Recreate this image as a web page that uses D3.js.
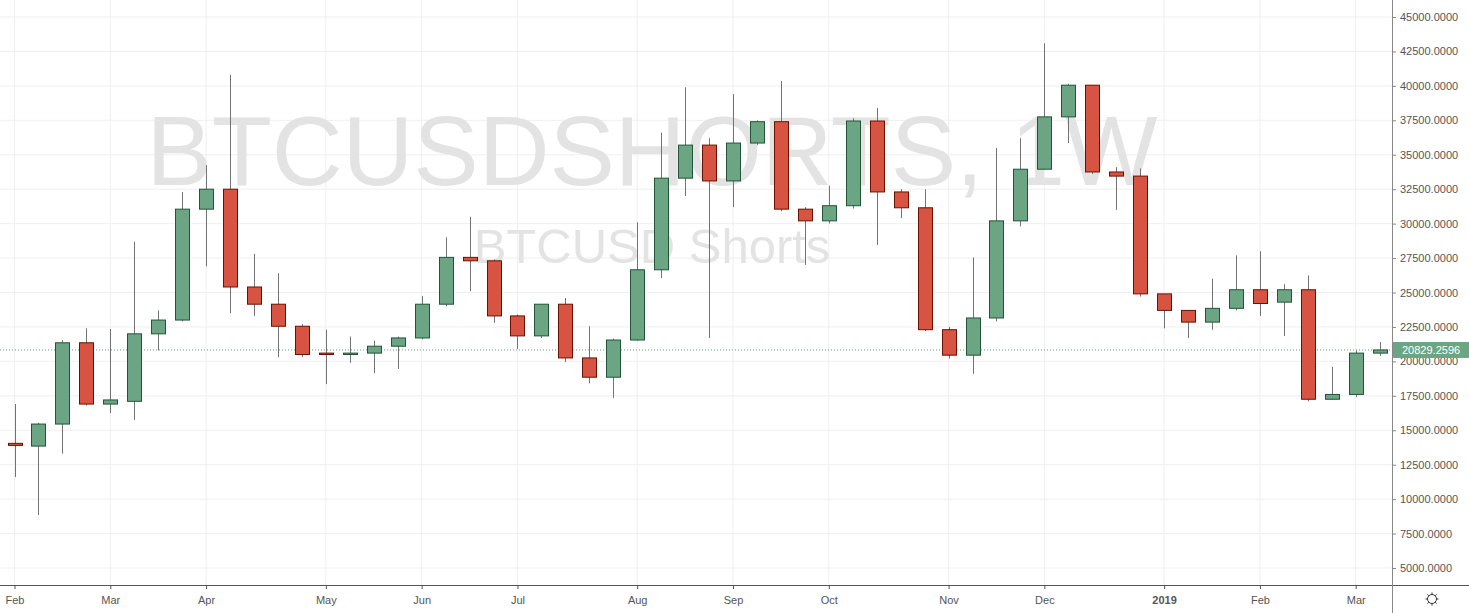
<!DOCTYPE html>
<html><head><meta charset="utf-8">
<script src="https://cdn.jsdelivr.net/npm/d3@7"></script>
<style>body{margin:0;background:#fff;overflow:hidden}svg{display:block;font-family:Arial,"Liberation Sans",sans-serif}</style>
</head><body><svg id="c" width="1469" height="613"></svg>
<script>
const startWeek = "2018-01-29";
const opens  = [14050,13850,15450,21350,16900,17100,22000,23000,31050,32500,25400,24150,22550,20600,20500,20600,21100,21700,24150,27550,27300,23300,21850,24150,20250,18850,21550,26650,33300,35700,33100,35850,37400,31050,30200,31300,37450,32300,31150,22300,20450,23150,30200,33950,37750,40050,33750,33450,24900,23700,22850,23850,25200,24300,25200,17250,17600,20600];
const closes = [13900,15450,21350,16900,17200,22000,23000,31050,32500,25400,24150,22550,20500,20500,20600,21100,21700,24150,27550,27300,23300,21850,24150,20250,18850,21550,26650,33300,35700,33100,35850,37400,31050,30200,31300,37450,32300,31150,22300,20450,23150,30200,33950,37750,40050,33750,33450,24900,23700,22850,23850,25200,24200,25200,17250,17600,20600,20829.2596];
const highs  = [16900,15550,21550,22400,22350,28700,23700,32300,34250,40800,27800,26400,22700,22300,21800,21500,21800,24750,29000,30500,27400,23400,24150,24600,22550,21650,30100,36600,39900,36200,39400,37500,40350,31200,32750,37650,38400,32500,32500,22500,27550,35500,36200,43100,40150,40050,34100,34000,24900,23700,26000,27700,28000,25600,26250,19600,20800,21400];
const lows   = [11600,8850,13300,16800,16250,15750,20800,22900,26900,23500,23300,20300,20300,18350,19900,19150,19450,21600,24000,25100,22800,20900,21700,19950,18400,17350,21500,26050,32000,21700,31200,35700,30900,27000,30000,31100,28450,30400,22200,20200,19100,22900,29800,33900,35850,33600,31000,24700,22400,21700,22300,23700,23300,21850,17100,17200,17400,20400];
const monthLabels = [["2018-01-29","Feb"],["2018-02-26","Mar"],["2018-03-26","Apr"],["2018-04-30","May"],["2018-05-28","Jun"],["2018-06-25","Jul"],["2018-07-30","Aug"],["2018-08-27","Sep"],["2018-09-24","Oct"],["2018-10-29","Nov"],["2018-11-26","Dec"],["2018-12-31","2019"],["2019-01-28","Feb"],["2019-02-25","Mar"]];
const yTicks = [5000,7500,10000,12500,15000,17500,20000,22500,25000,27500,30000,32500,35000,37500,40000,42500,45000];
const lastPrice = 20829.2596;

const fmt = d3.timeFormat("%Y-%m-%d");
const s0 = d3.timeParse("%Y-%m-%d")(startWeek);
const cats = opens.map((_,i)=>fmt(d3.timeWeek.offset(s0,i)));
const data = cats.map((c,i)=>({c,o:opens[i],h:highs[i],l:lows[i],cl:closes[i]}));

const svg = d3.select("#c");
const W=1469,H=613,axX=1392,axY=585;
const x = d3.scalePoint().domain(cats).range([14.5,14.5+57*23.95]);
const y = d3.scaleLinear().domain([5000,45000]).range([568,17]);

svg.append("g").selectAll("line").data(yTicks).join("line")
  .attr("x1",0).attr("x2",axX).attr("y1",d=>y(d)).attr("y2",d=>y(d)).attr("stroke","#efefef");
svg.append("g").selectAll("line").data(monthLabels).join("line")
  .attr("x1",d=>x(d[0])).attr("x2",d=>x(d[0])).attr("y1",0).attr("y2",axY).attr("stroke","#efefef");

svg.append("text").text("BTCUSDSHORTS, 1W").attr("x",652).attr("y",185).attr("text-anchor","middle")
  .attr("font-size",98).attr("fill","#e3e3e3").attr("font-family","Arial,'Liberation Sans'");
svg.append("text").text("BTCUSD Shorts").attr("x",652).attr("y",263).attr("text-anchor","middle")
  .attr("font-size",49).attr("fill","#e3e3e3").attr("font-family","Arial,'Liberation Sans'");

svg.append("line").attr("x1",0).attr("x2",axX).attr("y1",y(lastPrice)).attr("y2",y(lastPrice))
  .attr("stroke","#5fa37c").attr("stroke-dasharray","1,2").attr("stroke-width",1);

const g = svg.append("g");
g.selectAll("line.w").data(data).join("line").attr("class","w")
  .attr("x1",d=>Math.round(x(d.c))+0.5).attr("x2",d=>Math.round(x(d.c))+0.5)
  .attr("y1",d=>y(d.h)).attr("y2",d=>y(d.l)).attr("stroke","#737375");
g.selectAll("rect").data(data).join("rect")
  .attr("x",d=>Math.round(x(d.c))-6.5).attr("width",14)
  .attr("y",d=>y(Math.max(d.o,d.cl))).attr("height",d=>Math.max(1,y(Math.min(d.o,d.cl))-y(Math.max(d.o,d.cl))))
  .attr("fill",d=>d.cl>=d.o?"#6ba583":"#d75442")
  .attr("stroke",d=>d.cl>=d.o?"#225437":"#6b1100").attr("stroke-width",1);

svg.append("rect").attr("x",axX).attr("y",0).attr("width",W-axX).attr("height",H).attr("fill","#fff");
svg.append("rect").attr("x",0).attr("y",axY).attr("width",W).attr("height",H-axY).attr("fill","#fff");
const ya = svg.append("g").attr("transform",`translate(${axX},0)`)
  .call(d3.axisRight(y).tickValues(yTicks).tickSize(4).tickFormat(d=>d3.format(".4f")(d)));
ya.select(".domain").attr("stroke","#888").attr("d",`M0.5,0V${axY}`);
ya.selectAll(".tick line").attr("stroke","#888");
ya.selectAll(".tick text").attr("fill","#555").attr("font-size",11).attr("x",8);
const xa = svg.append("g").attr("transform",`translate(0,${axY})`)
  .call(d3.axisBottom(x).tickValues(monthLabels.map(d=>d[0])).tickSize(4)
    .tickFormat(d=>monthLabels.find(m=>m[0]===d)[1]));
xa.select(".domain").attr("stroke","#555").attr("d",`M0,0.5H${axX}`);
xa.selectAll(".tick line").attr("stroke","#555");
xa.selectAll(".tick text").attr("fill","#555").attr("font-size",11).attr("dy","1.1em")
  .attr("font-weight",d=>d==="2018-12-31"?"bold":"normal");
svg.append("line").attr("x1",axX).attr("x2",W).attr("y1",axY+0.5).attr("y2",axY+0.5).attr("stroke","#555");
svg.append("line").attr("x1",axX+0.5).attr("x2",axX+0.5).attr("y1",axY).attr("y2",H).attr("stroke","#888");

const py=y(lastPrice);
svg.append("rect").attr("x",axX+1).attr("y",py-8).attr("width",W-axX-1).attr("height",16).attr("fill","#6ba583");
svg.append("text").text(d3.format(".4f")(lastPrice)).attr("x",axX+10).attr("y",py+4).attr("fill","#fff").attr("font-size",11);

const gx=1432,gy=599;
const gg=svg.append("g").attr("transform",`translate(${gx},${gy})`);
gg.append("circle").attr("r",4.5).attr("fill","none").attr("stroke","#333");
d3.range(8).forEach(i=>{const a=i*Math.PI/4;gg.append("line").attr("x1",4.5*Math.cos(a)).attr("y1",4.5*Math.sin(a)).attr("x2",6.5*Math.cos(a)).attr("y2",6.5*Math.sin(a)).attr("stroke","#333");});
</script></body></html>
